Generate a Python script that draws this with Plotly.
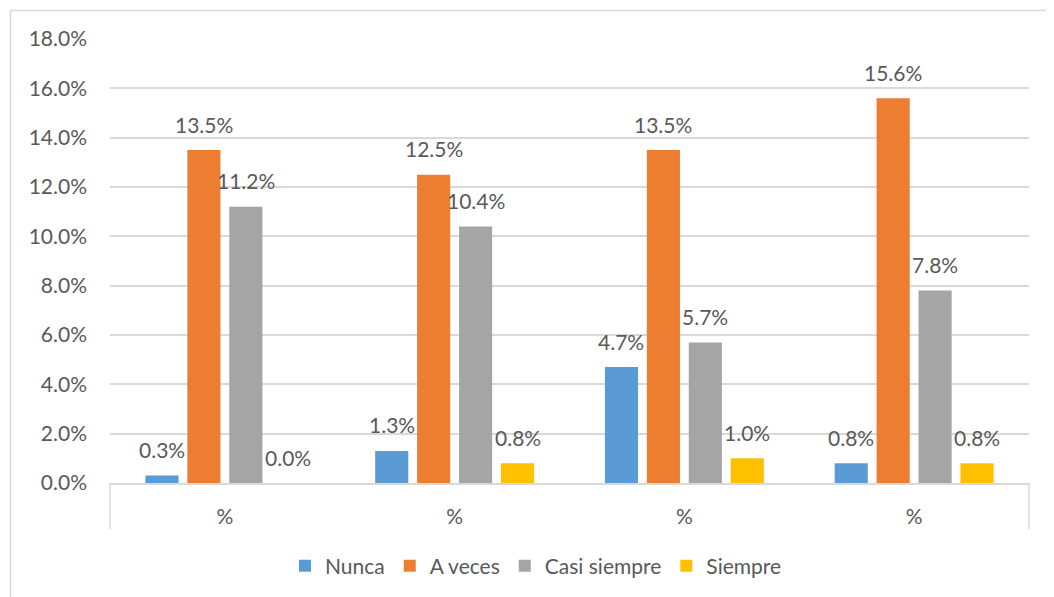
import plotly.graph_objects as go

# data
categories = ["%", "%", "%", "%"]
series_names = ["Nunca", "A veces", "Casi siempre", "Siempre"]
nunca = [0.3, 1.3, 4.7, 0.8]
a_veces = [13.5, 12.5, 13.5, 15.6]
casi_siempre = [11.2, 10.4, 5.7, 7.8]
siempre = [0.0, 0.8, 1.0, 0.8]
y_ticks = [0, 2, 4, 6, 8, 10, 12, 14, 16, 18]

colors = ["#5B9BD5", "#ED7D31", "#A5A5A5", "#FFC000"]
text_color = "#595959"
grid_color = "#D9D9D9"
font_family = "Lato"
font_size = 21

# page has an 8px body margin, so the figure is drawn from (8, 8)
PAGE_OFF = 8
W, H = 1054 - PAGE_OFF, 597 - PAGE_OFF
ML, MT = 110 - PAGE_OFF, 39 - PAGE_OFF
MR = W - (1029 - PAGE_OFF)
MB = H - (484 - PAGE_OFF)
BARGAP = 0.27
GROUPGAP = 0.21

x_pos = list(range(len(categories)))
all_series = [nunca, a_veces, casi_siempre, siempre]

fig = go.Figure()
for name, values, color in zip(series_names, all_series, colors):
    fig.add_trace(go.Bar(x=x_pos, y=values, name=name,
                         marker=dict(color=color, line=dict(width=0))))

# data labels above each bar (Excel "outside end" style)
slot = (1 - BARGAP) / len(all_series)
for i, values in enumerate(all_series):
    offset = (i - (len(all_series) - 1) / 2) * slot
    for xi, v in zip(x_pos, values):
        fig.add_annotation(x=xi + offset, y=v, text=f"{v:.1f}%",
                           showarrow=False, yanchor="middle", yshift=26,
                           font=dict(size=font_size, color=text_color, family=font_family))

# helpers: page pixel -> paper coords
pw, ph = W - ML - MR, H - MT - MB
def px_x(p):
    return (p - PAGE_OFF - ML) / pw
def px_y(p):
    return (H - MB - (p - PAGE_OFF)) / ph

# chart border (only left/top visible in the reference) and category axis end lines
fig.add_shape(type="rect", xref="paper", yref="paper",
              x0=px_x(10.5), y0=px_y(10.5), x1=px_x(1080), y1=px_y(640),
              line=dict(color=grid_color, width=1.5), layer="below")
for xe in [0, 1]:
    fig.add_shape(type="line", xref="paper", yref="paper",
                  x0=xe, x1=xe, y0=0, y1=px_y(530),
                  line=dict(color=grid_color, width=1.5))

fig.update_layout(
    width=W, height=H,
    margin=dict(l=ML, r=MR, t=MT, b=MB),
    paper_bgcolor="white", plot_bgcolor="white",
    barmode="group", bargap=BARGAP, bargroupgap=GROUPGAP,
    font=dict(family=font_family, size=font_size, color=text_color),
    showlegend=True,
    legend=dict(orientation="h", x=px_x(536), xanchor="center",
                y=px_y(566), yanchor="middle",
                font=dict(size=font_size, color=text_color),
                itemwidth=30, tracegroupgap=0),
)
fig.update_xaxes(range=[-0.5, len(categories) - 0.5],
                 tickvals=x_pos, ticktext=categories,
                 showgrid=False, zeroline=False,
                 showline=True, linecolor=grid_color, linewidth=1.5,
                 ticks="", ticklabelstandoff=14,
                 tickfont=dict(size=font_size, color=text_color))
fig.update_yaxes(range=[0, 18], tickvals=y_ticks,
                 ticktext=[f"{t:.1f}%" for t in y_ticks],
                 showgrid=True, gridcolor=grid_color, gridwidth=1.5,
                 zeroline=False, showline=False,
                 ticks="", ticklabelstandoff=22,
                 tickfont=dict(size=font_size, color=text_color))

fig.write_html("out.html")
